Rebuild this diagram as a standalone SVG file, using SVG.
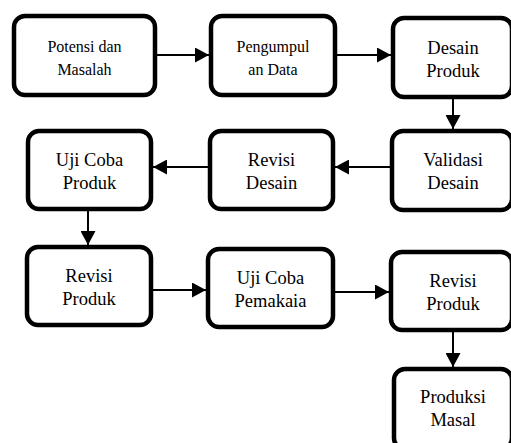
<svg xmlns="http://www.w3.org/2000/svg" width="511" height="443" viewBox="0 0 511 443">
<defs>
<marker id="ah" markerWidth="14" markerHeight="15" refX="14" refY="7.5" orient="auto" markerUnits="userSpaceOnUse">
<path d="M0,0 L14,7.5 L0,15 Z" fill="#000"/>
</marker>
<style>
.box{fill:#fff;stroke:#000;stroke-width:4.5}
.t{font-family:"Liberation Serif","Times New Roman",serif;font-size:18.5px;fill:#000;text-anchor:middle}
.s{font-size:16px}
.c{stroke:#000;stroke-width:2;fill:none;marker-end:url(#ah)}
</style>
</defs>
<rect width="511" height="443" fill="#fff"/>
<g id="connectors">
<line class="c" x1="157" y1="55" x2="209" y2="55"/>
<line class="c" x1="337" y1="55" x2="391" y2="55"/>
<line class="c" x1="453" y1="99" x2="453" y2="129"/>
<line class="c" x1="390" y1="167" x2="335" y2="167"/>
<line class="c" x1="208" y1="167" x2="153" y2="167"/>
<line class="c" x1="88" y1="211" x2="88" y2="245"/>
<line class="c" x1="153" y1="290" x2="206" y2="290"/>
<line class="c" x1="335" y1="292" x2="389" y2="292"/>
<line class="c" x1="453" y1="332" x2="453" y2="367"/>
</g>
<g id="n1"><rect class="box" x="14" y="16" width="141" height="79" rx="11"/>
<text class="t s" x="84.5" y="52">Potensi dan</text><text class="t s" x="84.5" y="75">Masalah</text></g>
<g id="n2"><rect class="box" x="211" y="16" width="124" height="79" rx="11"/>
<text class="t s" x="273" y="52">Pengumpul</text><text class="t s" x="273" y="75">an Data</text></g>
<g id="n3"><rect class="box" x="393" y="18" width="119" height="79" rx="11"/>
<text class="t" x="453" y="54">Desain</text><text class="t" x="453" y="77">Produk</text></g>
<g id="n4"><rect class="box" x="28" y="131" width="123" height="78" rx="11"/>
<text class="t" x="89.5" y="166">Uji Coba</text><text class="t" x="89.5" y="189">Produk</text></g>
<g id="n5"><rect class="box" x="210" y="131" width="123" height="78" rx="11"/>
<text class="t" x="271.5" y="166">Revisi</text><text class="t" x="271.5" y="189">Desain</text></g>
<g id="n6"><rect class="box" x="392" y="131" width="120" height="79" rx="11"/>
<text class="t" x="453" y="166">Validasi</text><text class="t" x="453" y="189">Desain</text></g>
<g id="n7"><rect class="box" x="27" y="247" width="124" height="78" rx="11"/>
<text class="t" x="89" y="282">Revisi</text><text class="t" x="89" y="305">Produk</text></g>
<g id="n8"><rect class="box" x="208" y="249" width="125" height="78" rx="11"/>
<text class="t" x="270.5" y="284">Uji Coba</text><text class="t" x="270.5" y="307">Pemakaia</text></g>
<g id="n9"><rect class="box" x="391" y="252" width="121" height="78" rx="11"/>
<text class="t" x="453" y="287">Revisi</text><text class="t" x="453" y="310">Produk</text></g>
<g id="n10"><rect class="box" x="394" y="369" width="118" height="80" rx="11"/>
<text class="t" x="453" y="403">Produksi</text><text class="t" x="453" y="426">Masal</text></g>
</svg>
